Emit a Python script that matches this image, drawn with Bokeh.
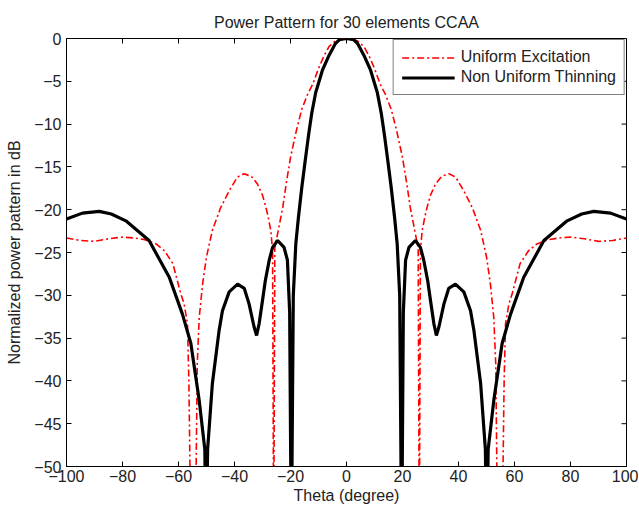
from bokeh.plotting import figure
from bokeh.models import Range1d, FixedTicker, Legend, LegendItem
from bokeh.embed import file_html
from bokeh.resources import INLINE

# ---- data ----
theta_uniform = [-100, -95, -90, -85, -80, -76, -72, -68, -65, -62, -59.2, -58, -56.8, -56.3, -55.9,
                 -54.8, -53.7, -53.3, -52.6, -51.4, -50, -47.9, -45, -41.9, -39, -36.6, -34, -31.8,
                 -30, -28.8, -28, -27, -26.4, -26.0, -25.6, -24, -22.8, -21.5, -20, -18, -16, -14,
                 -12, -10, -8, -6.2, -4, -2, 0,
                 2, 4, 6.2, 8, 10, 12, 14, 16, 18, 20, 21.5, 22.8, 24, 25.6, 26.0, 26.4, 27, 28,
                 28.8, 30, 31.8, 34, 36.6, 39, 41.9, 45, 47.9, 50, 51.4, 52.6, 53.3, 53.7, 54.8,
                 55.9, 56.3, 56.8, 58, 59.2, 62, 65, 68, 72, 76, 80, 85, 90, 95, 100]
db_uniform = [-23.3, -23.6, -23.7, -23.4, -23.2, -23.3, -23.5, -24.0, -24.8, -26.3, -29.8, -31.0,
              -33.3, -40, -50, -60, -50, -38, -32.6, -28.7, -25.5, -22.4, -19.8, -17.8, -16.2,
              -15.8, -16.1, -17.0, -18.3, -19.7, -20.8, -22.5, -24.8, -60, -24.5, -21.8, -19.8,
              -16.9, -13.9, -10.9, -8.3, -6.6, -5.3, -3.5, -2.0, -0.93, -0.3, -0.05, 0,
              -0.05, -0.3, -0.93, -2.0, -3.5, -5.3, -6.6, -8.3, -10.9, -13.9, -16.9, -19.8,
              -21.8, -24.5, -60, -24.8, -22.5, -20.8, -19.7, -18.3, -17.0, -16.1, -15.8, -16.2,
              -17.8, -19.8, -22.4, -25.5, -28.7, -32.6, -38, -50, -60, -50, -40, -33.3, -31.0,
              -29.8, -26.3, -24.8, -24.0, -23.5, -23.3, -23.2, -23.4, -23.7, -23.6, -23.3]

theta_thinning = [-100, -94.3, -88.3, -84, -78.8, -70.5, -63.3, -58.6, -55.6, -52.6, -50.6, -50.1,
                  -49.6, -47.9, -46.7, -45.5, -44.3, -41.9, -38.9, -36.5, -34.8, -33, -32.1, -31.2,
                  -30, -29, -27.6, -26.4, -24.6, -22.3, -21.1, -20.3, -19.7, -19.0, -18.1, -17.2,
                  -16.0, -14.8, -13.6, -12.4, -11.0, -8.6, -6.2, -4, -2.6, 0,
                  2.6, 4, 6.2, 8.6, 11.0, 12.4, 13.6, 14.8, 16.0, 17.2, 18.1, 19.0, 19.7, 20.3,
                  21.1, 22.3, 24.6, 26.4, 27.6, 29, 30, 31.2, 32.1, 33, 34.8, 36.5, 38.9, 41.9,
                  44.3, 45.5, 46.7, 47.9, 49.6, 50.1, 50.6, 52.6, 55.6, 58.6, 63.3, 70.5, 78.8,
                  84, 88.3, 94.3, 100]
db_thinning = [-21.1, -20.4, -20.2, -20.5, -21.3, -23.6, -27.9, -32.2, -35.6, -42.3, -48, -60,
               -48, -40.3, -37.2, -34.1, -31.8, -29.6, -28.7, -29.2, -31, -33.7, -34.7, -33.3,
               -30.6, -28.3, -25.9, -24.4, -23.6, -24.4, -25.9, -32, -60, -30, -24, -21.0,
               -17.5, -14.4, -11.4, -8.7, -6.3, -3.7, -1.95, -0.6, -0.15, 0,
               -0.15, -0.6, -1.95, -3.7, -6.3, -8.7, -11.4, -14.4, -17.5, -21.0, -24, -30, -60,
               -32, -25.9, -24.4, -23.6, -24.4, -25.9, -28.3, -30.6, -33.3, -34.7, -33.7, -31,
               -29.2, -28.7, -29.6, -31.8, -34.1, -37.2, -40.3, -48, -60, -48, -42.3, -35.6,
               -32.2, -27.9, -23.6, -21.3, -20.5, -20.2, -20.4, -21.1]

x_ticks = [-100, -80, -60, -40, -20, 0, 20, 40, 60, 80, 100]
y_ticks = [-50, -45, -40, -35, -30, -25, -20, -15, -10, -5, 0]

FONT = "Liberation Sans"
TXT = "#222222"

p = figure(width=638, height=510, output_backend="svg", toolbar_location=None,
           x_range=Range1d(x_ticks[0], x_ticks[-1]), y_range=Range1d(y_ticks[0], y_ticks[-1]),
           title="Power Pattern for 30 elements CCAA",
           min_border_left=66, min_border_right=12, min_border_top=38, min_border_bottom=44)

p.title.align = "center"
p.title.text_font = FONT
p.title.text_font_size = "16px"
p.title.text_font_style = "normal"
p.title.text_color = TXT
p.title.standoff = 15

p.xgrid.visible = False
p.ygrid.visible = False
p.outline_line_color = "black"
p.outline_line_width = 1
p.background_fill_color = "white"
p.border_fill_color = "white"

r_u = p.line(theta_uniform, db_uniform, line_color="red", line_width=1.6, line_dash="7 3 2 3")
r_t = p.line(theta_thinning, db_thinning, line_color="black", line_width=3.2)

for ax in (p.xaxis[0], p.yaxis[0]):
    ax.axis_line_color = "black"
    ax.major_tick_line_color = "black"
    ax.major_tick_in = 5
    ax.major_tick_out = 0
    ax.minor_tick_line_color = None
    ax.major_label_text_font = FONT
    ax.major_label_text_font_size = "16px"
    ax.major_label_text_color = TXT
    ax.axis_label_text_font = FONT
    ax.axis_label_text_font_size = "16px"
    ax.axis_label_text_font_style = "normal"
    ax.axis_label_text_color = TXT

p.xaxis.ticker = FixedTicker(ticks=x_ticks)
p.yaxis.ticker = FixedTicker(ticks=y_ticks)
p.xaxis.axis_label = "Theta (degree)"
p.yaxis.axis_label = "Normalized power pattern in dB"
p.xaxis.major_label_standoff = 3
p.xaxis.axis_label_standoff = 2
p.yaxis.major_label_standoff = 5
p.yaxis.axis_label_standoff = 8

# inward ticks on the top and right frame edges (MATLAB box style); markers are clipped to the frame
p.scatter(x=x_ticks, y=[y_ticks[-1]] * len(x_ticks), marker="dash", size=10, angle=1.5708,
          line_color="black", line_width=1)
p.scatter(x=[x_ticks[-1]] * len(y_ticks), y=y_ticks, marker="dash", size=10,
          line_color="black", line_width=1)

legend = Legend(items=[LegendItem(label="Uniform Excitation", renderers=[r_u]),
                       LegendItem(label="Non Uniform Thinning", renderers=[r_t])],
                location="top_right")
legend.margin = 1
legend.padding = 8
legend.spacing = 2
legend.glyph_width = 53
legend.glyph_height = 17
legend.label_height = 17
legend.label_standoff = 6
legend.label_text_font = FONT
legend.label_text_font_size = "16px"
legend.label_text_color = TXT
legend.border_line_color = "black"
legend.border_line_width = 1
legend.background_fill_color = "white"
legend.background_fill_alpha = 1
p.add_layout(legend)

open("out.html", "w").write(file_html(p, INLINE))
